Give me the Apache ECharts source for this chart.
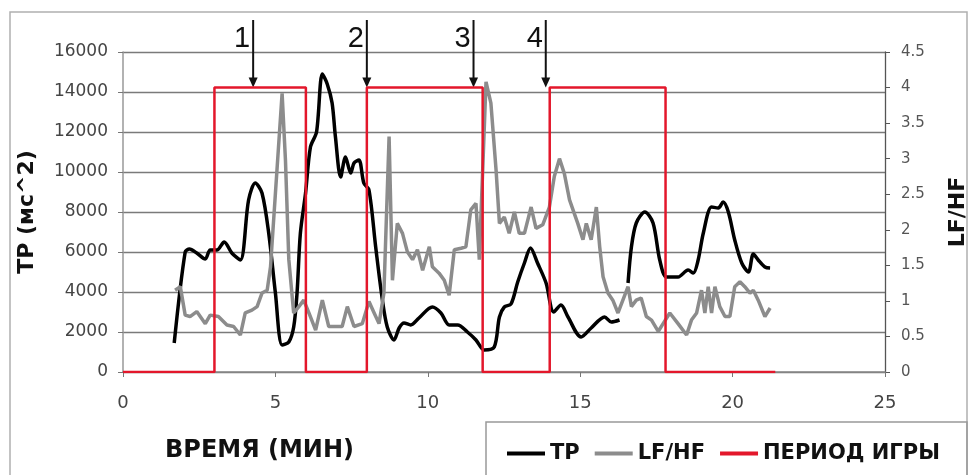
<!DOCTYPE html>
<html>
<head>
<meta charset="utf-8">
<script src="https://cdn.jsdelivr.net/npm/echarts@6/dist/echarts.min.js"></script>
<style>
html, body { margin: 0; padding: 0; background: #fff; }
#chart { width: 971px; height: 475px; }
</style>
</head>
<body>
<div id="chart"></div>
<script>
// TP, мс^2
const tpTime = [1.68, 2.04, 2.18, 2.42, 2.70, 2.86, 3.08, 3.32, 3.57, 3.85, 4.12, 4.34, 4.56, 4.78, 5.00,
  5.22, 5.44, 5.60, 5.71, 5.82, 5.99, 6.15, 6.35, 6.54, 6.70, 6.86, 6.97, 7.14, 7.30, 7.47, 7.58, 7.74,
  7.90, 8.07, 8.29, 8.51, 8.67, 8.89, 9.06, 9.22, 9.44, 9.71, 10.15, 10.43, 10.70, 10.98, 11.30, 11.58,
  11.85, 12.18, 12.35, 12.51, 12.73, 12.95, 13.17, 13.37, 13.60, 13.88, 14.13, 14.37, 14.60, 15.03,
  15.36, 15.80, 16.02, 16.29, 16.43, 16.57, 16.68, 16.84, 17.12, 17.39, 17.61, 17.83, 18.21, 18.54,
  18.71, 18.87, 19.04, 19.31, 19.53, 19.69, 19.86, 20.07, 20.30, 20.52, 20.68, 20.84, 21.06, 21.23];
const tpValue = [1450, 6000, 6150, 5950, 5650, 6100, 6100, 6500, 5950, 5600, 8600, 9450, 8950, 6950, 3950,
  1350, 1500, 2250, 3950, 6950, 8950, 11250, 12000, 14900, 14400, 13450, 11750, 9750, 10750, 9950, 10450, 10600,
  9450, 9100, 6250, 3600, 2250, 1600, 2200, 2450, 2350, 2700, 3250, 2950, 2350, 2350, 2000, 1600,
  1100, 1250, 2750, 3250, 3400, 4500, 5450, 6200, 5450, 4450, 3000, 3350, 2750, 1750,
  2200, 2750, 2500, 2600, '-', 4450, 6250, 7450, 8000, 7450, 5600, 4750, 4750, 5100,
  4950, 5600, 6950, 8250, 8200, 8500, 8000, 6600, 5450, 5000, 5900, 5600, 5250, 5200];

// LF/HF
const lfTime = [1.71, 1.88, 2.04, 2.20, 2.42, 2.70, 2.86, 3.13, 3.41, 3.63, 3.85, 4.01, 4.23, 4.40, 4.56,
  4.73, 4.84, 5.00, 5.22, 5.33, 5.44, 5.60, 5.77, 5.93, 6.10, 6.32, 6.54, 6.75, 6.97, 7.19, 7.36, 7.58,
  7.85, 8.07, 8.24, 8.40, 8.56, 8.73, 8.84, 9.00, 9.17, 9.33, 9.50, 9.66, 9.83, 10.05, 10.15, 10.37,
  10.54, 10.70, 10.87, 11.09, 11.25, 11.41, 11.58, 11.69, 11.91, 12.07, 12.24, 12.35, 12.51, 12.67,
  12.84, 13.00, 13.17, 13.39, 13.55, 13.77, 13.99, 14.15, 14.32, 14.48, 14.65, 14.92, 15.09, 15.20,
  15.36, 15.53, 15.64, 15.75, 15.91, 16.07, 16.24, 16.40, 16.57, 16.68, 16.84, 17.00, 17.17, 17.34,
  17.56, 17.72, 17.94, 18.21, 18.49, 18.65, 18.82, 18.98, 19.09, 19.20, 19.31, 19.42, 19.58, 19.75,
  19.91, 20.07, 20.24, 20.40, 20.57, 20.68, 20.84, 21.06, 21.23];
const lfValue = [1.15, 1.20, 0.80, 0.78, 0.85, 0.68, 0.80, 0.78, 0.66, 0.64, 0.52, 0.83, 0.87, 0.92, 1.11,
  1.15, 1.48, 2.51, 3.92, 2.98, 1.58, 0.83, 0.92, 1.01, 0.83, 0.59, 1.01, 0.64, 0.64, 0.64, 0.92, 0.64,
  0.68, 0.99, 0.83, 0.68, 1.11, 3.31, 1.29, 2.09, 1.95, 1.69, 1.58, 1.72, 1.43, 1.76, 1.48, 1.39,
  1.29, 1.08, 1.72, 1.74, 1.76, 2.28, 2.37, 1.58, 4.08, 3.78, 2.84, 2.09, 2.18, 1.95,
  2.25, 1.95, 1.95, 2.32, 2.02, 2.07, 2.32, 2.75, 3.00, 2.79, 2.42, 2.09, 1.86, 2.09,
  1.86, 2.32, 1.76, 1.34, 1.11, 1.01, 0.83, 1.01, 1.20, 0.92, 1.01, 1.04, 0.78, 0.73,
  0.57, 0.68, 0.83, 0.68, 0.52, 0.73, 0.83, 1.15, 0.83, 1.20, 0.83, 1.20, 0.92, 0.78,
  0.78, 1.20, 1.27, 1.20, 1.11, 1.15, 1.01, 0.78, 0.90];

// период игры (0 / 4 по правой оси)
const periodTime = [0, 3, 3, 6, 6, 8, 8, 11.8, 11.8, 14, 14, 17.8, 17.8, 21.4];
const periodValue = [0, 0, 4, 4, 0, 0, 4, 4, 0, 0, 4, 4, 0, 0];

// стрелки с номерами
const arrowTime = [4.27, 8.0, 11.5, 13.87];
const arrowLabels = ['1', '2', '3', '4'];

const xTicks = { min: 0, max: 25, interval: 5 };
const tpTicks = { min: 0, max: 16000, interval: 2000 };
const lfTicks = { min: 0, max: 4.5, interval: 0.5 };

const FONT = 'DejaVu Sans';

const chart = echarts.init(document.getElementById('chart'));

const pairs = (xs, ys) => xs.map((x, i) => [x, ys[i]]);
const plain = v => String(v);

chart.setOption({
  animation: false,
  backgroundColor: '#fff',
  grid: { left: 123, right: 86, top: 52, bottom: 103, containLabel: false, outerBoundsMode: 'none' },
  title: {
    text: 'ВРЕМЯ (МИН)',
    left: 160,
    top: 434,
    textStyle: { fontFamily: FONT, fontSize: 24, fontWeight: 'bold', color: '#111' }
  },
  legend: {
    left: 502,
    top: 438,
    icon: 'rect',
    itemWidth: 38,
    itemHeight: 4,
    itemGap: 15,
    textStyle: { fontFamily: FONT, fontSize: 21, fontWeight: 'bold', color: '#111' },
    data: ['TP', 'LF/HF', 'ПЕРИОД ИГРЫ']
  },
  xAxis: {
    type: 'value',
    min: xTicks.min, max: xTicks.max, interval: xTicks.interval,
    axisLine: { lineStyle: { color: '#888', width: 1.5 } },
    axisTick: { show: true, length: 5, lineStyle: { color: '#777' } },
    axisLabel: { fontFamily: FONT, fontSize: 18, color: '#444', margin: 22, formatter: plain },
    splitLine: { show: false }
  },
  yAxis: [{
    type: 'value',
    min: tpTicks.min, max: tpTicks.max, interval: tpTicks.interval,
    name: 'TP (мс^2)',
    nameLocation: 'middle',
    nameRotate: 90,
    nameGap: 85,
    nameTextStyle: { fontFamily: FONT, fontSize: 22, fontWeight: 'bold', color: '#111' },
    axisLine: { show: true, lineStyle: { color: '#999', width: 1.5 } },
    axisTick: { show: true, length: 5, lineStyle: { color: '#777' } },
    axisLabel: { fontFamily: FONT, fontSize: 17, color: '#444', margin: 15, formatter: plain },
    splitLine: { show: true, lineStyle: { color: '#7a7a7a', width: 1.3 } }
  }, {
    type: 'value',
    position: 'right',
    min: lfTicks.min, max: lfTicks.max, interval: lfTicks.interval,
    name: 'LF/HF',
    nameLocation: 'middle',
    nameRotate: 90,
    nameGap: 62,
    nameTextStyle: { fontFamily: FONT, fontSize: 22, fontWeight: 'bold', color: '#111' },
    axisLine: { show: true, lineStyle: { color: '#555', width: 1.3 } },
    axisTick: { show: true, length: 5, lineStyle: { color: '#555' } },
    axisLabel: { fontFamily: FONT, fontSize: 15, color: '#555', margin: 16, formatter: plain },
    splitLine: { show: false }
  }],
  series: [{
    name: 'TP',
    type: 'line',
    yAxisIndex: 0,
    data: pairs(tpTime, tpValue),
    showSymbol: false,
    symbol: 'none',
    smooth: 0.3,
    lineStyle: { color: '#000', width: 3.5 },
    itemStyle: { color: '#000' }
  }, {
    name: 'LF/HF',
    type: 'line',
    yAxisIndex: 1,
    data: pairs(lfTime, lfValue),
    showSymbol: false,
    symbol: 'none',
    lineStyle: { color: '#8c8c8c', width: 3.5 },
    itemStyle: { color: '#8c8c8c' }
  }, {
    name: 'ПЕРИОД ИГРЫ',
    type: 'line',
    yAxisIndex: 1,
    data: pairs(periodTime, periodValue),
    showSymbol: false,
    symbol: 'none',
    lineStyle: { color: '#e3172b', width: 2.5 },
    itemStyle: { color: '#e3172b' }
  }]
});

// рамки и стрелки
const graphics = [{
  type: 'rect',
  shape: { x: 10, y: 12, width: 957, height: 470 },
  style: { fill: 'none', stroke: '#b0b0b0', lineWidth: 1.5 },
  z: -1
}, {
  type: 'rect',
  shape: { x: 486, y: 422, width: 481, height: 60 },
  style: { fill: 'none', stroke: '#999', lineWidth: 1.5 }
}];

const tipY = chart.convertToPixel({ yAxisIndex: 1 }, 4);
arrowTime.forEach((t, i) => {
  const x = chart.convertToPixel({ xAxisIndex: 0 }, t);
  graphics.push({
    type: 'line',
    shape: { x1: x, y1: 20, x2: x, y2: tipY - 8 },
    style: { stroke: '#111', lineWidth: 2 }
  });
  graphics.push({
    type: 'polygon',
    shape: { points: [[x - 4.5, tipY - 10], [x + 4.5, tipY - 10], [x, tipY]] },
    style: { fill: '#111' }
  });
  graphics.push({
    type: 'text',
    x: x - 3,
    y: 39,
    style: {
      text: arrowLabels[i],
      fontFamily: 'Liberation Sans',
      fontSize: 29,
      fill: '#111',
      align: 'right',
      verticalAlign: 'middle'
    }
  });
});

chart.setOption({ graphic: graphics });
</script>
</body>
</html>
